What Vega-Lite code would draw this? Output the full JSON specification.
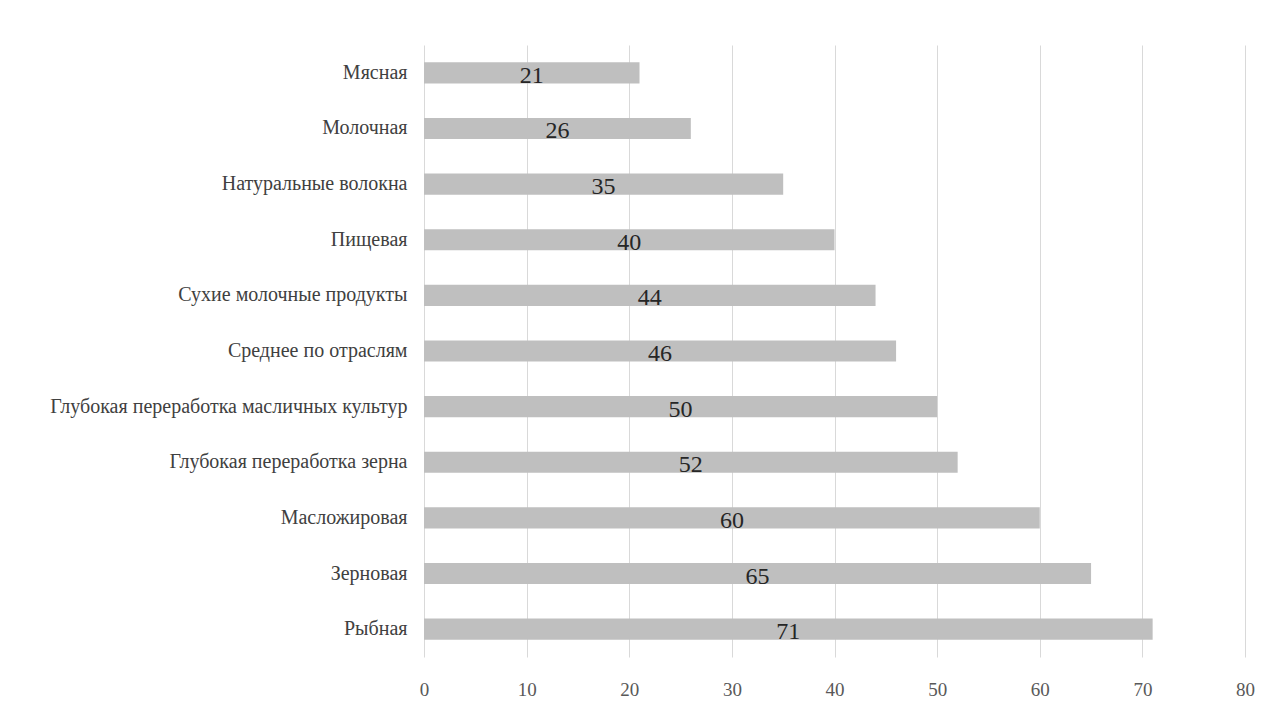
{
  "$schema": "https://vega.github.io/schema/vega-lite/v6.json",
  "autosize": "none",
  "width": 821,
  "height": 612,
  "padding": {"left": 424, "top": 45, "right": 34, "bottom": 58},
  "background": "white",
  "config": {
    "view": {"stroke": null},
    "font": "Liberation Serif"
  },
  "data": {
    "values": [
      {"cat": "Мясная", "v": 21},
      {"cat": "Молочная", "v": 26},
      {"cat": "Натуральные волокна", "v": 35},
      {"cat": "Пищевая", "v": 40},
      {"cat": "Сухие молочные продукты", "v": 44},
      {"cat": "Среднее по отраслям", "v": 46},
      {"cat": "Глубокая переработка масличных культур", "v": 50},
      {"cat": "Глубокая переработка зерна", "v": 52},
      {"cat": "Масложировая", "v": 60},
      {"cat": "Зерновая", "v": 65},
      {"cat": "Рыбная", "v": 71}
    ]
  },
  "encoding": {
    "y": {
      "field": "cat", "type": "nominal", "sort": null,
      "scale": {"paddingInner": 0.62, "paddingOuter": 0.31},
      "axis": {"title": null, "domain": false, "ticks": false, "labelPadding": 17, "labelLimit": 0,
               "labelFont": "Liberation Serif", "labelFontSize": 20, "labelColor": "#404040"}
    }
  },
  "layer": [
    {
      "mark": {"type": "bar", "color": "#bfbfbf"},
      "encoding": {
        "x": {
          "field": "v", "type": "quantitative",
          "scale": {"domain": [0, 80], "nice": false},
          "axis": {"title": null, "values": [0,10,20,30,40,50,60,70,80], "domain": false, "ticks": false,
                   "grid": true, "gridColor": "#d9d9d9", "gridWidth": 1, "labelFlush": false,
                   "labelPadding": 23, "labelFont": "Liberation Serif", "labelFontSize": 19,
                   "labelColor": "#595959"}
        }
      }
    },
    {
      "mark": {"type": "text", "font": "Liberation Serif", "fontSize": 24, "color": "#262626", "dy": 3},
      "encoding": {
        "x": {"field": "v", "type": "quantitative", "scale": {"domain": [0, 160], "nice": false}, "axis": null},
        "text": {"field": "v", "type": "quantitative"}
      }
    }
  ],
  "resolve": {"scale": {"x": "independent"}}
}
